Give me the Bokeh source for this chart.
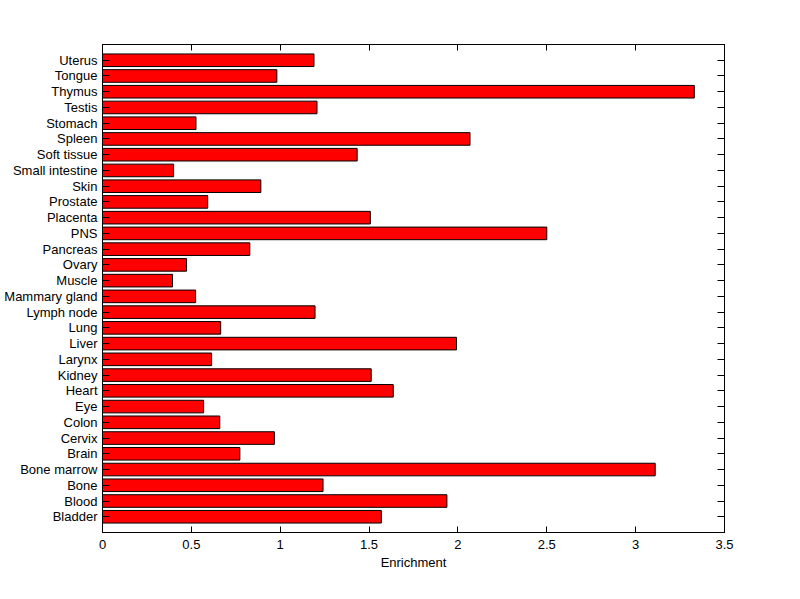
from bokeh.plotting import figure
from bokeh.models import Range1d, FixedTicker, LinearAxis, NumeralTickFormatter, CustomJSTickFormatter, ColumnDataSource
from bokeh.embed import file_html
from bokeh.resources import INLINE

tissues = ["Bladder", "Blood", "Bone", "Bone marrow", "Brain", "Cervix", "Colon", "Eye",
           "Heart", "Kidney", "Larynx", "Liver", "Lung", "Lymph node", "Mammary gland",
           "Muscle", "Ovary", "Pancreas", "PNS", "Placenta", "Prostate", "Skin",
           "Small intestine", "Soft tissue", "Spleen", "Stomach", "Testis", "Thymus",
           "Tongue", "Uterus"]
enrichment = [1.569, 1.938, 1.241, 3.110, 0.773, 0.967, 0.660, 0.569,
              1.636, 1.512, 0.614, 1.992, 0.665, 1.196, 0.524,
              0.394, 0.473, 0.829, 2.500, 1.507, 0.592, 0.891,
              0.400, 1.433, 2.068, 0.526, 1.207, 3.330,
              0.981, 1.190]
x_ticks = [0, 0.5, 1, 1.5, 2, 2.5, 3, 3.5]

positions = list(range(1, len(tissues) + 1))
src = ColumnDataSource(dict(y=positions, val=enrichment, name=tissues))

FONT = "Liberation Sans"

p = figure(width=784, height=583, output_backend="svg", toolbar_location=None,
           x_range=Range1d(0, 3.5), y_range=Range1d(0, len(tissues) + 1),
           min_border_left=102, min_border_right=60, min_border_top=44, min_border_bottom=51)
p.hbar(y="y", right="val", left=0, height=0.8, source=src,
       fill_color="#ff0000", line_color="black", line_width=1)

p.xgrid.visible = False
p.ygrid.visible = False
p.outline_line_color = "black"
p.outline_line_width = 1

xt = FixedTicker(ticks=x_ticks)
yt = FixedTicker(ticks=positions)

p.xaxis.ticker = xt
p.xaxis.formatter = NumeralTickFormatter(format="0.[0]")
p.xaxis.axis_label = "Enrichment"
p.xaxis.axis_label_text_font = FONT
p.xaxis.axis_label_text_font_style = "normal"
p.xaxis.axis_label_text_font_size = "13px"
p.xaxis.axis_label_text_color = "black"
p.xaxis.axis_label_standoff = 3
p.xaxis.major_label_text_font = FONT
p.xaxis.major_label_text_font_size = "13px"
p.xaxis.major_label_text_color = "black"
p.xaxis.major_label_standoff = 7
p.xaxis.major_tick_in = 6
p.xaxis.major_tick_out = 0
p.xaxis.minor_tick_line_color = None
p.xaxis.axis_line_color = "black"
p.xaxis.major_tick_line_color = "black"

p.yaxis.ticker = yt
p.yaxis.major_label_overrides = {i: t for i, t in zip(positions, tissues)}
p.yaxis.major_label_text_font = FONT
p.yaxis.major_label_text_font_size = "13px"
p.yaxis.major_label_text_color = "black"
p.yaxis.major_label_standoff = 5
p.yaxis.major_tick_in = 7
p.yaxis.major_tick_out = 0
p.yaxis.minor_tick_line_color = None
p.yaxis.axis_line_color = "black"
p.yaxis.major_tick_line_color = "black"

blank = CustomJSTickFormatter(code="return ''")
top = LinearAxis(ticker=FixedTicker(ticks=x_ticks), formatter=blank,
                 major_tick_in=6, major_tick_out=0, minor_tick_line_color=None,
                 major_label_standoff=0, axis_line_color="black", major_tick_line_color="black")
right = LinearAxis(ticker=FixedTicker(ticks=positions), formatter=blank,
                   major_tick_in=7, major_tick_out=0, minor_tick_line_color=None,
                   major_label_standoff=0, axis_line_color="black", major_tick_line_color="black")
p.add_layout(top, "above")
p.add_layout(right, "right")

open("out.html", "w").write(file_html(p, INLINE))
